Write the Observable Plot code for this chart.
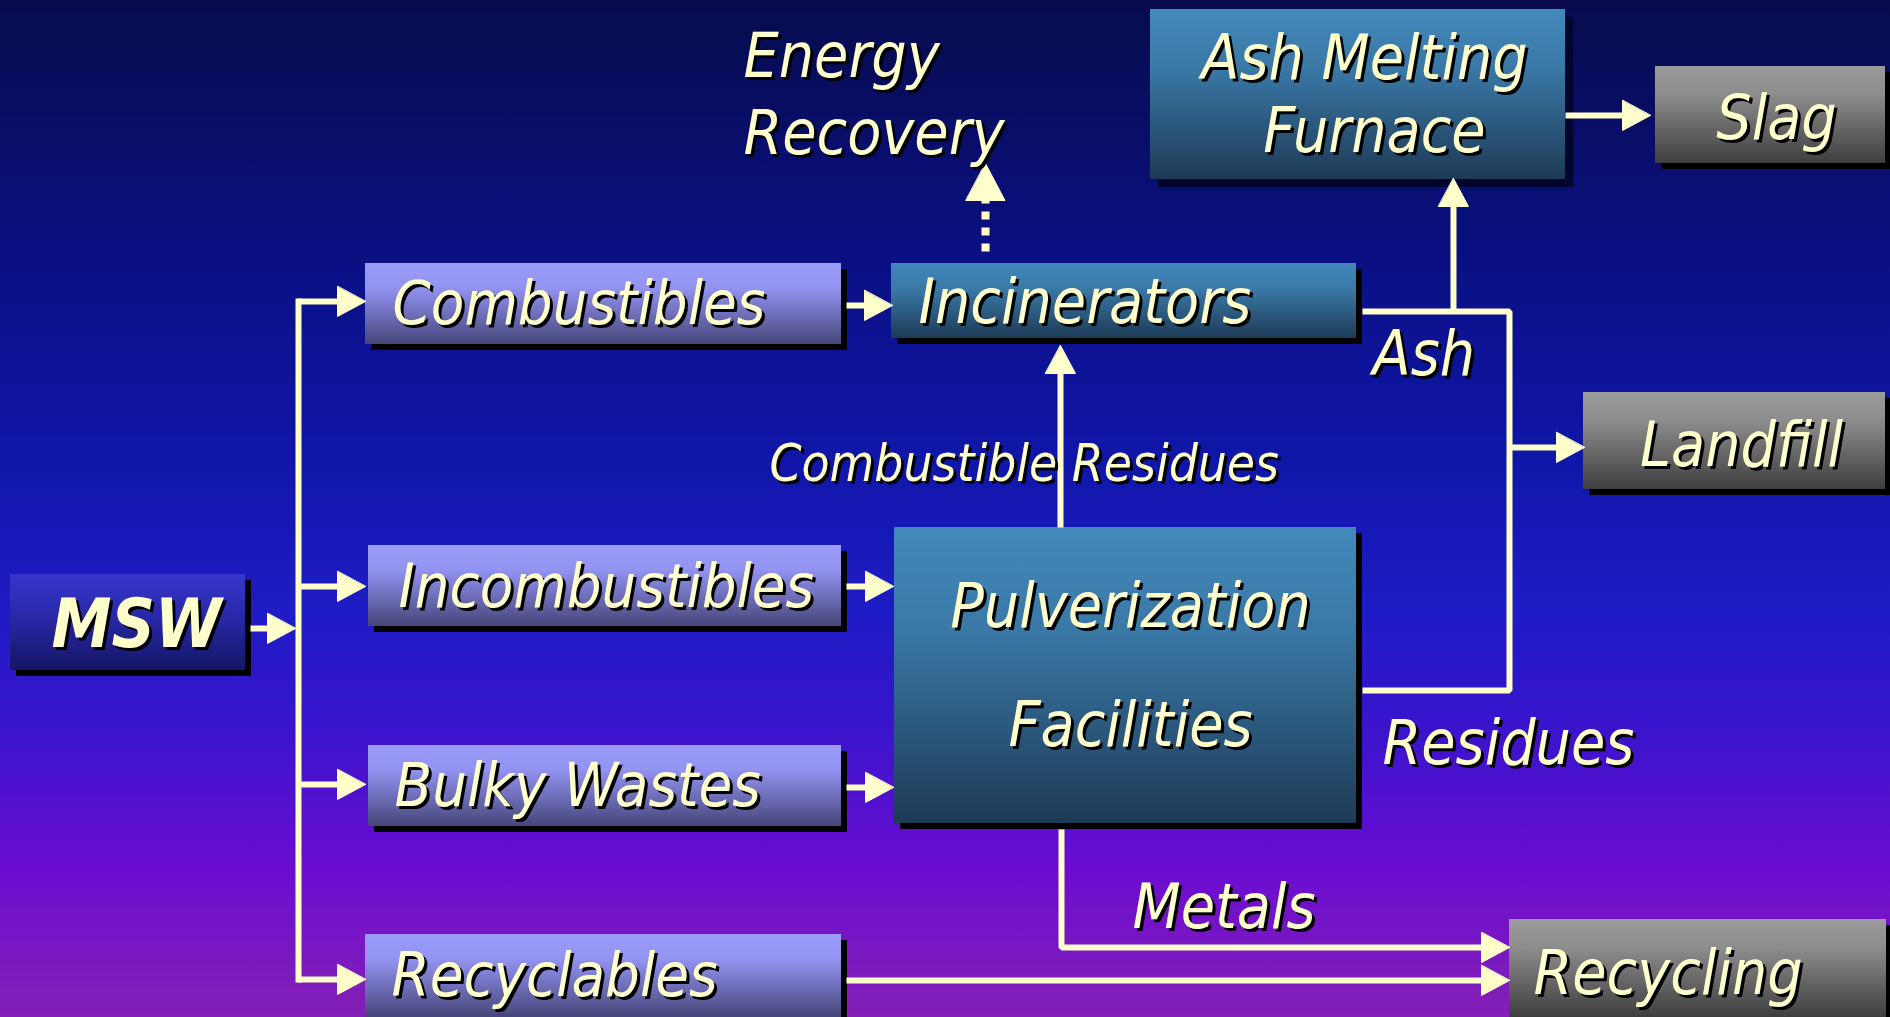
<!DOCTYPE html>
<html>
<head>
<meta charset="utf-8">
<script src="https://cdn.jsdelivr.net/npm/d3@7"></script>
<script src="https://cdn.jsdelivr.net/npm/@observablehq/plot@0.6"></script>
<style>
html, body { margin: 0; padding: 0; overflow: hidden; background: #0c1290; }
#chart svg { display: block; }
</style>
</head>
<body>
<div id="chart"></div>
<script>
// ---- Diagram data (diagram units = pixels of a 1890 x 1017 canvas, y downwards) ----
const boxLabels = ["MSW", "Combustibles", "Incombustibles", "Bulky Wastes", "Recyclables",
  "Incinerators", "Pulverization Facilities", "Ash Melting Furnace", "Slag", "Landfill", "Recycling"];
const boxKind   = ["msw", "cat", "cat", "cat", "cat", "proc", "proc", "proc", "out", "out", "out"];
const boxLeft   = [10, 365, 368, 368, 365, 891, 894, 1150, 1655, 1583, 1509];
const boxRight  = [245, 841, 841, 841, 841, 1356, 1356, 1565, 1885, 1885, 1886];
const boxTop    = [574, 263, 545, 745, 934, 263, 527, 9, 66, 392, 919];
const boxBottom = [670, 344, 626, 826, 1017, 338, 823, 179, 163, 489, 1017];

const textLabels = ["MSW", "Combustibles", "Incombustibles", "Bulky Wastes", "Recyclables",
  "Incinerators", "Pulverization", "Facilities", "Ash Melting", "Furnace", "Slag", "Landfill",
  "Recycling", "Energy", "Recovery", "Ash", "Combustible Residues", "Residues", "Metals"];
const textX      = [136, 392, 398, 394, 391, 918, 1130, 1130, 1364, 1374, 1776, 1741, 1533, 743, 743, 1372, 769, 1382, 1132];
const textY      = [646, 323, 606, 805, 995, 322, 626, 745, 78, 151, 138, 465, 993, 76, 153, 374, 480, 763, 927];
const textAnchor = ["middle", "start", "start", "start", "start", "start", "middle", "middle", "middle", "middle",
  "middle", "middle", "start", "start", "start", "start", "start", "start", "start"];
const textSize   = [67, 61, 61, 61, 61, 62, 62, 62, 62, 62, 62, 62, 62, 62, 62, 62, 51, 62, 62];
const textBold   = [1, 0, 0, 0, 0, 0, 0, 0, 0, 0, 0, 0, 0, 0, 0, 0, 0, 0, 0];

const flowPaths = [
  [[250, 628], [295, 628]],                                // MSW -> trunk
  [[298, 298], [298, 982]],                                // trunk
  [[298, 301], [365, 301]],                                // -> Combustibles
  [[298, 586], [365, 586]],                                // -> Incombustibles
  [[298, 784], [365, 784]],                                // -> Bulky Wastes
  [[298, 979], [365, 979]],                                // -> Recyclables
  [[846, 305], [892, 305]],                                // Combustibles -> Incinerators
  [[846, 586], [893, 586]],                                // Incombustibles -> Pulverization
  [[846, 787], [893, 787]],                                // Bulky -> Pulverization
  [[846, 980], [1509, 980]],                               // Recyclables -> Recycling
  [[1060, 527], [1060, 345]],                              // Pulverization -> Incinerators
  [[1061, 829], [1061, 947], [1509, 947]],                 // Metals -> Recycling
  [[1362, 311], [1509, 311], [1509, 690], [1362, 690]],    // Ash / Residues bracket
  [[1509, 447], [1584, 447]],                              // -> Landfill
  [[1453, 311], [1453, 178]],                              // Ash -> Ash Melting Furnace
  [[1565, 115], [1650, 115]]                               // Furnace -> Slag
];
const flowHasHead = [1, 0, 1, 1, 1, 1, 1, 1, 1, 1, 1, 1, 0, 1, 1, 1];
const energyPath = [[985, 251], [985, 163]];             // dotted arrow to Energy Recovery

// ---- build tables ----
const CREAM = "#ffffcc";
const boxes = boxLabels.map((label, i) => ({
  label, kind: boxKind[i], x1: boxLeft[i], x2: boxRight[i], y1: boxTop[i], y2: boxBottom[i]
}));
const texts = textLabels.map((t, i) => ({
  t, x: textX[i], y: textY[i], anchor: textAnchor[i], size: textSize[i], bold: textBold[i]
}));

function unit(p, q) {
  const d = Math.hypot(q[0] - p[0], q[1] - p[1]);
  return [(q[0] - p[0]) / d, (q[1] - p[1]) / d];
}
function stemAndHead(path, id, len, wid, hasHead) {
  const pts = path.map(p => p.slice());
  let head = [];
  if (hasHead) {
    const a = pts[pts.length - 2], b = pts[pts.length - 1];
    const [ux, uy] = unit(a, b);
    const bx = b[0] - ux * len, by = b[1] - uy * len;
    const px = -uy * wid / 2, py = ux * wid / 2;
    head = [[b[0], b[1]], [bx + px, by + py], [bx - px, by - py]].map(([x, y]) => ({x, y, id}));
    pts[pts.length - 1] = [b[0] - ux * (len - 2), b[1] - uy * (len - 2)];
  }
  return {stem: pts.map(([x, y]) => ({x, y, id})), head};
}
const stems = [], heads = [];
flowPaths.forEach((p, i) => {
  const r = stemAndHead(p, "f" + i, 28, 30, flowHasHead[i]);
  stems.push(...r.stem); heads.push(...r.head);
});
const energy = stemAndHead(energyPath, "energy", 37, 39, 1);
heads.push(...energy.head);

// ---- gradient definitions ----
function defs() {
  const d = d3.create("svg:defs");
  const grads = {
    gCat:  [[0, "#9b9bfa"], [0.3, "#9393f2"], [1, "#46467a"]],
    gMsw:  [[0, "#3636cc"], [0.45, "#2828a8"], [1, "#151565"]],
    gProc: [[0, "#4289bb"], [0.35, "#3a78a6"], [1, "#1d3a56"]],
    gOut:  [[0, "#9b9b9b"], [0.3, "#8c8c8c"], [1, "#3e3e3e"]]
  };
  for (const [id, stops] of Object.entries(grads)) {
    const g = d.append("linearGradient").attr("id", id)
      .attr("x1", 0).attr("y1", 0).attr("x2", 0).attr("y2", 1);
    for (const [o, c] of stops) g.append("stop").attr("offset", o).attr("stop-color", c);
  }
  return d.node();
}

const fontFamily = "'DejaVu Sans Condensed', 'DejaVu Sans', sans-serif";

// text marks grouped by (weight, size, anchor): a black shadow copy, then the cream text
const textLayers = [];
for (const bold of [0, 1]) {
  for (const size of [...new Set(textSize)]) {
    for (const anchor of ["start", "middle"]) {
      const sub = texts.filter(d => d.bold === bold && d.size === size && d.anchor === anchor);
      if (!sub.length) continue;
      const opts = {
        x: "x", y: "y", text: "t", textAnchor: anchor, lineAnchor: "bottom",
        fontFamily, fontStyle: "italic", fontWeight: bold ? "bold" : "normal", fontSize: size
      };
      textLayers.push(Plot.text(sub, {...opts, fill: "#000000", dx: 3, dy: 3}));
      textLayers.push(Plot.text(sub, {...opts, fill: CREAM}));
    }
  }
}

const chart = Plot.plot({
  width: 1890,
  height: 1017,
  margin: 0,
  x: {domain: [0, 1890], range: [0, 1890], axis: null},
  y: {domain: [0, 1017], range: [0, 1017], axis: null},
  style: {
    background: "linear-gradient(to bottom, #070b4c 0%, #0a1082 25%, #1016a8 45%, #1e1cc6 60%, #3a14cc 72%, #6a0cd2 85%, #8420b6 100%)",
    fontFamily,
    fontStretch: "condensed",
    overflow: "hidden"
  },
  marks: [
    defs,
    // box shadows
    Plot.rect(boxes.filter(d => d.label !== "Ash Melting Furnace"),
      {x1: "x1", x2: "x2", y1: "y1", y2: "y2", fill: "#000000", dx: 6, dy: 6}),
    Plot.rect(boxes.filter(d => d.label === "Ash Melting Furnace"),
      {x1: "x1", x2: "x2", y1: "y1", y2: "y2", fill: "#02052e", dx: 8, dy: 8}),
    // boxes
    Plot.rect(boxes.filter(d => d.kind === "msw"),  {x1: "x1", x2: "x2", y1: "y1", y2: "y2", fill: "url(#gMsw)"}),
    Plot.rect(boxes.filter(d => d.kind === "cat"),  {x1: "x1", x2: "x2", y1: "y1", y2: "y2", fill: "url(#gCat)"}),
    Plot.rect(boxes.filter(d => d.kind === "proc"), {x1: "x1", x2: "x2", y1: "y1", y2: "y2", fill: "url(#gProc)"}),
    Plot.rect(boxes.filter(d => d.kind === "out"),  {x1: "x1", x2: "x2", y1: "y1", y2: "y2", fill: "url(#gOut)"}),
    // connectors
    Plot.line(stems, {x: "x", y: "y", z: "id", stroke: CREAM, strokeWidth: 6,
      strokeLinejoin: "miter", strokeLinecap: "butt", curve: "linear"}),
    Plot.line(energy.stem, {x: "x", y: "y", z: "id", stroke: CREAM, strokeWidth: 8,
      strokeDasharray: "8,8", strokeLinecap: "butt"}),
    Plot.line(heads, {x: "x", y: "y", z: "id", fill: CREAM, stroke: CREAM, strokeWidth: 1, curve: "linear-closed"}),
    // labels
    ...textLayers
  ]
});
document.getElementById("chart").appendChild(chart);
</script>
</body>
</html>
